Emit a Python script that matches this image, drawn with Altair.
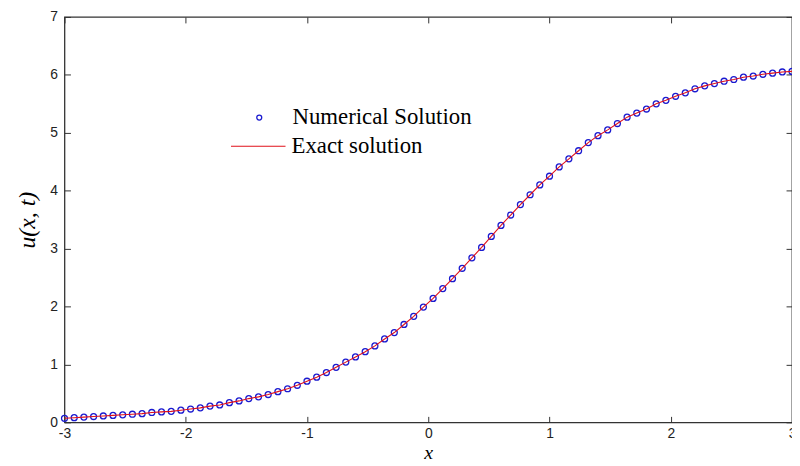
import altair as alt
import pandas as pd

# x grid (step 0.08 from -3 to 3)
x_vals = [-3.00, -2.92, -2.84, -2.76, -2.68, -2.60, -2.52, -2.44, -2.36, -2.28,
          -2.20, -2.12, -2.04, -1.96, -1.88, -1.80, -1.72, -1.64, -1.56, -1.48,
          -1.40, -1.32, -1.24, -1.16, -1.08, -1.00, -0.92, -0.84, -0.76, -0.68,
          -0.60, -0.52, -0.44, -0.36, -0.28, -0.20, -0.12, -0.04, 0.04, 0.12,
          0.20, 0.28, 0.36, 0.44, 0.52, 0.60, 0.68, 0.76, 0.84, 0.92,
          1.00, 1.08, 1.16, 1.24, 1.32, 1.40, 1.48, 1.56, 1.64, 1.72,
          1.80, 1.88, 1.96, 2.04, 2.12, 2.20, 2.28, 2.36, 2.44, 2.52,
          2.60, 2.68, 2.76, 2.84, 2.92, 3.00]

u_numerical = [0.07, 0.08, 0.09, 0.10, 0.11, 0.12, 0.13, 0.14, 0.15, 0.17,
               0.18, 0.19, 0.21, 0.23, 0.25, 0.28, 0.30, 0.34, 0.37, 0.41,
               0.44, 0.48, 0.53, 0.58, 0.64, 0.71, 0.78, 0.86, 0.95, 1.04,
               1.13, 1.22, 1.32, 1.44, 1.55, 1.69, 1.83, 1.99, 2.14, 2.31,
               2.48, 2.66, 2.84, 3.02, 3.21, 3.40, 3.58, 3.76, 3.93, 4.10,
               4.25, 4.41, 4.55, 4.69, 4.83, 4.95, 5.05, 5.16, 5.27, 5.34,
               5.41, 5.50, 5.56, 5.63, 5.69, 5.76, 5.81, 5.85, 5.89, 5.92,
               5.96, 5.98, 6.01, 6.03, 6.05, 6.06]

u_exact = [0.07, 0.08, 0.09, 0.10, 0.11, 0.12, 0.13, 0.14, 0.15, 0.17,
           0.18, 0.19, 0.21, 0.23, 0.25, 0.28, 0.30, 0.34, 0.37, 0.41,
           0.44, 0.48, 0.53, 0.58, 0.64, 0.71, 0.78, 0.86, 0.95, 1.04,
           1.13, 1.22, 1.32, 1.44, 1.55, 1.69, 1.83, 1.99, 2.14, 2.31,
           2.48, 2.66, 2.84, 3.02, 3.21, 3.40, 3.58, 3.76, 3.93, 4.10,
           4.25, 4.41, 4.55, 4.69, 4.83, 4.95, 5.05, 5.16, 5.27, 5.34,
           5.41, 5.50, 5.56, 5.63, 5.69, 5.76, 5.81, 5.85, 5.89, 5.92,
           5.96, 5.98, 6.01, 6.03, 6.05, 6.06]

x_ticks = [-3, -2, -1, 0, 1, 2, 3]
y_ticks = [0, 1, 2, 3, 4, 5, 6, 7]
series_names = ["Numerical Solution", "Exact solution"]

df_num = pd.DataFrame({"x": x_vals, "u": u_numerical, "series": series_names[0]})
df_ex = pd.DataFrame({"x": x_vals, "u": u_exact, "series2": series_names[1]})

W, H = 734, 409
TICK = 6
label_expr = "datum.value < 0 ? '-' + abs(datum.value) : '' + datum.value"

xs = alt.Scale(domain=[-3, 3], nice=False, zero=False)
ys = alt.Scale(domain=[0, 7], nice=False, zero=False)

common = dict(grid=False, domain=False, tickColor="#333333", tickSize=TICK, tickWidth=1,
              offset=-TICK, labelFont="Liberation Sans", labelFontSize=14,
              labelColor="#222222", labelFlush=False, labelOverlap=False)

points = alt.Chart(df_num).mark_point(shape="circle", filled=False, size=36,
                                      strokeWidth=1.3, opacity=1).encode(
    x=alt.X("x:Q", scale=xs,
            axis=alt.Axis(orient="top", labels=False, title=None, values=x_ticks, **common)),
    y=alt.Y("u:Q", scale=ys,
            axis=alt.Axis(orient="right", labels=False, title=None, values=y_ticks, **common)),
    color=alt.Color("series:N",
                    scale=alt.Scale(domain=[series_names[0]], range=["#1a1ad0"]),
                    legend=alt.Legend(orient="none", legendX=185, legendY=90, title=None,
                                      padding=0, symbolType="circle", symbolSize=25,
                                      symbolStrokeWidth=1.3, labelOffset=22,
                                      labelFont="Liberation Serif", labelFontSize=23,
                                      labelColor="#000000", labelLimit=400)),
)

line = alt.Chart(df_ex).mark_line(strokeWidth=1.1).encode(
    x=alt.X("x:Q", scale=xs,
            axis=alt.Axis(orient="bottom", title="x", values=x_ticks, labelPadding=4,
                          labelExpr=label_expr,
                          titleFont="Liberation Serif", titleFontStyle="italic",
                          titleFontSize=20, titleFontWeight="normal", titleColor="#000000",
                          titlePadding=2, **common)),
    y=alt.Y("u:Q", scale=ys,
            axis=alt.Axis(orient="left", title="u(x, t)", values=y_ticks, labelPadding=7,
                          titleFont="Liberation Serif", titleFontStyle="italic",
                          titleFontSize=24, titleFontWeight="normal", titleColor="#000000",
                          titlePadding=10, **common)),
    stroke=alt.Stroke("series2:N",
                      scale=alt.Scale(domain=[series_names[1]], range=["#e0101a"]),
                      legend=alt.Legend(orient="none", legendX=167, legendY=102, title=None,
                                        padding=0, symbolType="stroke", symbolSize=3025,
                                        symbolStrokeWidth=1.1, labelOffset=5,
                                        labelFont="Liberation Serif", labelFontSize=23,
                                        labelColor="#000000", labelLimit=400)),
)

chart = alt.layer(points, line).resolve_axis(
    x="independent", y="independent"
).properties(
    width=W, height=H,
    autosize=alt.AutoSizeParams(type="none"),
    padding={"left": 57, "top": 7, "right": 0, "bottom": 40},
).configure_view(stroke="#333333", strokeWidth=1.3)

chart.save("out.html", embed_options={"renderer": "svg", "actions": False})
